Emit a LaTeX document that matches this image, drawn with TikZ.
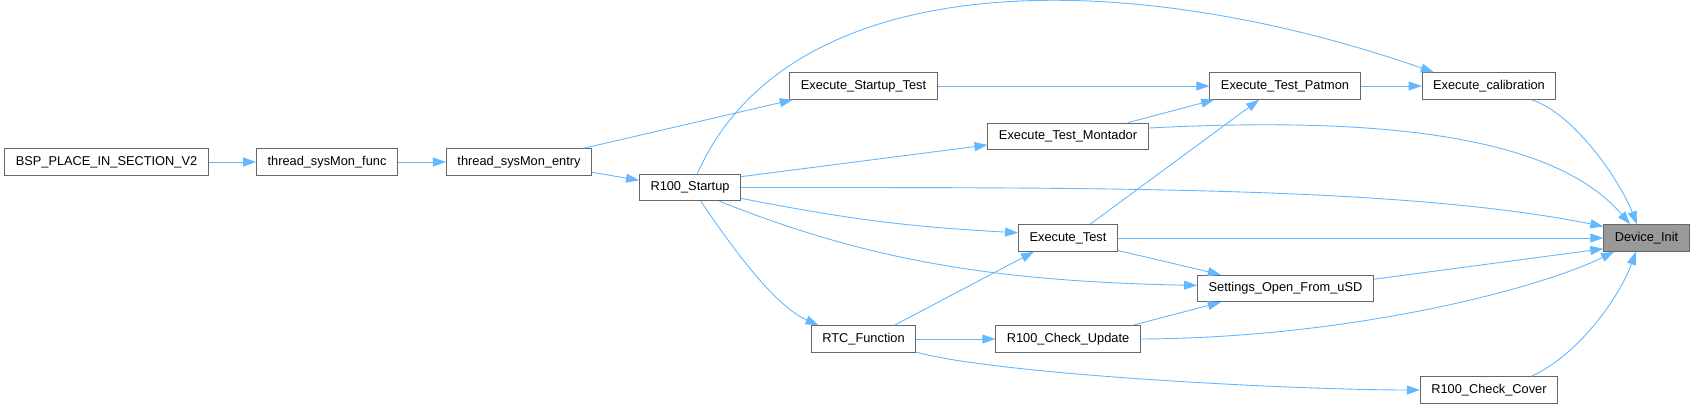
\documentclass[tikz,border=0pt]{standalone}
\usepackage{fontspec}
\setmainfont{Liberation Sans}
\usetikzlibrary{arrows.meta}

\definecolor{callblue}{HTML}{63B8FF}
\definecolor{boxgray}{HTML}{666666}
\definecolor{rootgray}{HTML}{999999}

\begin{document}
\begin{tikzpicture}[
    x=1pt, y=-1pt,
    every node/.style={font=\fontsize{12.8}{14}\selectfont},
    fn/.style={draw=boxgray, line width=1pt, fill=white, inner xsep=11pt, inner ysep=0pt, minimum height=26.5pt},
    root/.style={fn, fill=rootgray},
    call/.style={draw=callblue, line width=0.9pt, -{Triangle[length=13pt,width=9pt]}}
]

\useasboundingbox (0,0) rectangle (1694,409);

% === Callers, left to right ===
\node[fn] (bsp) at (106.5,162) {BSP\_PLACE\_IN\_SECTION\_V2};
\node[fn] (sysfunc) at (327,162) {thread\_sysMon\_func};
\node[fn] (sysentry) at (519,162) {thread\_sysMon\_entry};
\node[fn] (startup) at (690,187.5) {R100\_Startup};

\node[fn] (startuptest) at (863.5,86) {Execute\_Startup\_Test};
\node[fn] (rtcfunc) at (863.5,339) {RTC\_Function};

\node[fn] (montador) at (1068,136.5) {Execute\_Test\_Montador};
\node[fn] (exectest) at (1068,238) {Execute\_Test};
\node[fn] (chkupdate) at (1068,339) {R100\_Check\_Update};

\node[fn] (patmon) at (1285,86) {Execute\_Test\_Patmon};
\node[fn] (settings) at (1285.5,288.5) {Settings\_Open\_From\_uSD};

\node[fn] (calib) at (1489,86) {Execute\_calibration};
\node[fn] (chkcover) at (1489,390) {R100\_Check\_Cover};

% the called function
\node[root] (devinit) at (1646.5,238) {Device\_Init};

% === Calls ===
\draw[call] (bsp.east) -- (sysfunc.west);
\draw[call] (sysfunc.east) -- (sysentry.west);
\draw[call] (sysentry.-8) -- (startup.172);
\draw[call] (sysentry.12) -- (startuptest.191);

% R100_Startup
\draw[call] (startup.62) .. controls +(93,-210) and +(-308,-107) .. (calib.166);
\draw[call] (startup.12) -- (montador.186);
\draw[call] (startup.east) .. controls +(360,0) and +(-200,-40) .. (devinit.165);
\draw[call] (startup.-12) to[bend right=4] (exectest.174);
\draw[call] (startup.-25) .. controls +(150,60) and +(-200,-4) .. (settings.178);
\draw[call] (startup.-52) .. controls +(30,44) and +(-45,-20) .. (rtcfunc.163);

% middle columns
\draw[call] (startuptest.east) -- (patmon.west);
\draw[call] (montador.13) -- (patmon.191);
\draw[call] (montador.6) .. controls +(251,-13) and +(-72,-84) .. (devinit.140);
\draw[call] (exectest.32) -- (patmon.208);
\draw[call] (exectest.east) -- (devinit.west);
\draw[call] (exectest.-14) -- (settings.168);
\draw[call] (rtcfunc.24) -- (exectest.202);
\draw[call] (rtcfunc.east) -- (chkupdate.west);
\draw[call] (rtcfunc.-14) .. controls +(84,23) and +(-122,0) .. (chkcover.west);
\draw[call] (chkupdate.12) -- (settings.192);

% into Device_Init
\draw[call] (patmon.east) -- (calib.west);
\draw[call] (calib.-18) .. controls +(42,13) and +(-17,-44) .. (devinit.125);
\draw[call] (settings.6) -- (devinit.194);
\draw[call] (chkupdate.east) .. controls +(210,-1) and +(-75,37) .. (devinit.203);
\draw[call] (chkcover.18) .. controls +(47,-21) and +(-16,45) .. (devinit.232);

\end{tikzpicture}
\end{document}
